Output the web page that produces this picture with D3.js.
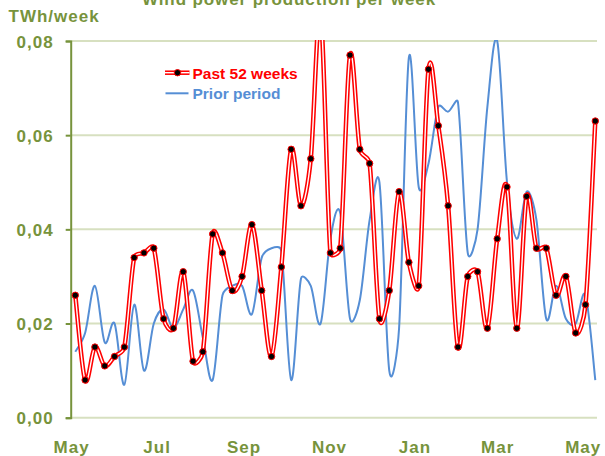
<!DOCTYPE html>
<html>
<head>
<meta charset="utf-8">
<script src="https://cdn.jsdelivr.net/npm/d3@7"></script>
<style>
  html, body { margin: 0; padding: 0; background: #fff; }
  text { font-family: "Liberation Sans", Arial, sans-serif; font-weight: bold; }
</style>
</head>
<body>
<svg id="chart" width="605" height="456"></svg>
<script>
// ---- data ----
const title = "Wind power production per week";
const yLabel = "TWh/week";
const seriesNames = ["Past 52 weeks", "Prior period"];
const firstWeek = "2012-05-04";
const weekCount = 54;
const past52 = [0.026, 0.008, 0.015, 0.011, 0.013, 0.015, 0.034, 0.035, 0.036, 0.021,
                0.019, 0.031, 0.012, 0.014, 0.039, 0.035, 0.027, 0.030, 0.041, 0.027,
                0.013, 0.032, 0.057, 0.045, 0.055, 0.086, 0.035, 0.036, 0.077, 0.057,
                0.054, 0.021, 0.027, 0.048, 0.033, 0.028, 0.074, 0.062, 0.045, 0.015,
                0.030, 0.031, 0.019, 0.038, 0.049, 0.019, 0.047, 0.036, 0.036, 0.026,
                0.030, 0.018, 0.024, 0.063];
const prior = [0.014, 0.018, 0.028, 0.016, 0.020, 0.007, 0.024, 0.010, 0.020, 0.023,
               0.019, 0.023, 0.027, 0.017, 0.008, 0.026, 0.028, 0.028, 0.022, 0.034,
               0.036, 0.0355, 0.008, 0.0295, 0.028, 0.020, 0.038, 0.0435, 0.021, 0.025,
               0.042, 0.050, 0.010, 0.019, 0.0765, 0.049, 0.054, 0.066, 0.065, 0.067,
               0.035, 0.040, 0.066, 0.080, 0.050, 0.038, 0.048, 0.042, 0.021, 0.028,
               0.021, 0.020, 0.026, 0.008];
const yTicks = [0, 0.02, 0.04, 0.06, 0.08];
const xTickDates = ["2012-05-01", "2012-07-01", "2012-09-01", "2012-11-01", "2013-01-01", "2013-03-01", "2013-05-01"];
const xTickLabels = ["May", "Jul", "Sep", "Nov", "Jan", "Mar", "May"];

// ---- styles ----
const olive = "#77933C";
const gridColor = "#D7E0C0";
const red = "#FF0000";
const blue = "#558ED5";

const svg = d3.select("#chart");
const parse = d3.timeParse("%Y-%m-%d");
const start = parse(firstWeek);
const weeks = d3.range(weekCount).map(i => d3.timeDay.offset(start, 7 * i));

const x = d3.scaleTime().domain([weeks[0], weeks[weeks.length - 1]]).range([75.3, 595.3]);
const y = d3.scaleLinear().domain([0, 0.08]).range([417.7, 41]);
const plotLeft = 70.7, plotRight = 597;

const locale = d3.formatLocale({decimal: ",", thousands: ".", grouping: [3], currency: ["", ""]});
const fmt = locale.format(".2f");

// Spreadsheet-style smoothed line: Bezier segments, Catmull-Rom tangents limited by segment length
function smoothPath(values) {
  const pts = values.map((v, i) => [x(weeks[i]), y(v)]);
  const n = pts.length;
  const tan = pts.map((p, i) => {
    const a = pts[Math.max(0, i - 1)], b = pts[Math.min(n - 1, i + 1)];
    return [b[0] - a[0], b[1] - a[1]];
  });
  const p = d3.path();
  p.moveTo(pts[0][0], pts[0][1]);
  for (let i = 0; i < n - 1; i++) {
    const a = pts[i], b = pts[i + 1];
    const seg = Math.hypot(b[0] - a[0], b[1] - a[1]);
    const ta = tan[i], tb = tan[i + 1];
    const la = Math.hypot(ta[0], ta[1]) || 1, lb = Math.hypot(tb[0], tb[1]) || 1;
    const fa = Math.min(1 / 6, 0.5 * seg / la), fb = Math.min(1 / 6, 0.5 * seg / lb);
    p.bezierCurveTo(a[0] + ta[0] * fa, a[1] + ta[1] * fa,
                    b[0] - tb[0] * fb, b[1] - tb[1] * fb, b[0], b[1]);
  }
  return p.toString();
}

// gridlines
svg.append("g").selectAll("line").data(yTicks).join("line")
  .attr("x1", plotLeft).attr("x2", plotRight)
  .attr("y1", d => y(d)).attr("y2", d => y(d))
  .attr("stroke", gridColor).attr("stroke-width", 2);

// y axis
const yAxis = svg.append("g").attr("transform", `translate(${plotLeft},0)`)
  .call(d3.axisLeft(y).tickValues(yTicks).tickFormat(fmt).tickSize(5).tickPadding(12));
yAxis.select(".domain").attr("stroke", olive).attr("stroke-width", 2);
yAxis.selectAll(".tick line").attr("stroke", olive).attr("stroke-width", 2);
yAxis.selectAll(".tick text").attr("fill", olive).style("font-size", "17px")
  .style("letter-spacing", "1px").attr("dy", "0.36em");

// x axis
const xAxis = svg.append("g").attr("transform", "translate(0,452.5)")
  .call(d3.axisBottom(x).tickValues(xTickDates.map(parse))
    .tickFormat((d, i) => xTickLabels[i]).tickSize(0).tickPadding(0));
xAxis.select(".domain").remove();
xAxis.selectAll(".tick text").attr("fill", olive).style("font-size", "17px")
  .style("letter-spacing", "1px").attr("dy", "0");

// clip
svg.append("defs").append("clipPath").attr("id", "plotClip")
  .append("rect").attr("x", plotLeft).attr("y", 40).attr("width", 605 - plotLeft).attr("height", 380);

const plot = svg.append("g").attr("clip-path", "url(#plotClip)");

plot.append("path").attr("d", smoothPath(prior))
  .attr("fill", "none").attr("stroke", blue).attr("stroke-width", 2);

plot.append("path").attr("d", smoothPath(past52))
  .attr("fill", "none").attr("stroke", red).attr("stroke-width", 4.5);
plot.append("path").attr("d", smoothPath(past52))
  .attr("fill", "none").attr("stroke", "#fff").attr("stroke-width", 1.4);

plot.append("g").selectAll("circle").data(past52).join("circle")
  .attr("cx", (d, i) => x(weeks[i])).attr("cy", d => y(d))
  .attr("r", 3.2).attr("fill", "#000").attr("stroke", red).attr("stroke-width", 1);

// title & y label
svg.append("text").attr("x", 289).attr("y", 4.5).attr("text-anchor", "middle")
  .attr("fill", olive).style("font-size", "17px").style("letter-spacing", "0.9px").text(title);
svg.append("text").attr("x", 8.5).attr("y", 22).attr("fill", olive)
  .style("font-size", "17px").style("letter-spacing", "1px").text(yLabel);

// legend
const lg = svg.append("g");
lg.append("line").attr("x1", 165).attr("x2", 189.5).attr("y1", 72.7).attr("y2", 72.7)
  .attr("stroke", red).attr("stroke-width", 4.5);
lg.append("line").attr("x1", 165).attr("x2", 189.5).attr("y1", 72.7).attr("y2", 72.7)
  .attr("stroke", "#fff").attr("stroke-width", 1.4);
lg.append("circle").attr("cx", 177.5).attr("cy", 72.7).attr("r", 3.2)
  .attr("fill", "#000").attr("stroke", red).attr("stroke-width", 1);
lg.append("text").attr("x", 192.5).attr("y", 79.3).attr("fill", red)
  .style("font-size", "15.5px").text(seriesNames[0]);
lg.append("line").attr("x1", 165.5).attr("x2", 188.5).attr("y1", 93.3).attr("y2", 93.3)
  .attr("stroke", blue).attr("stroke-width", 2);
lg.append("text").attr("x", 192.5).attr("y", 98.8).attr("fill", blue)
  .style("font-size", "15.5px").text(seriesNames[1]);
</script>
</body>
</html>
